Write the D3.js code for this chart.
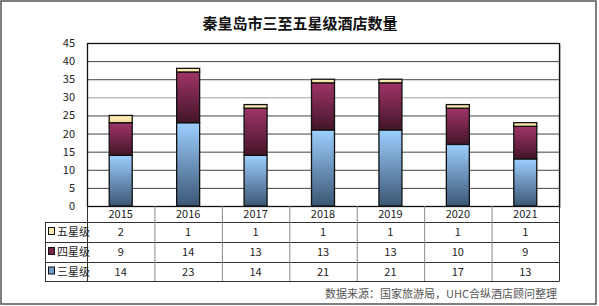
<!DOCTYPE html>
<html>
<head>
<meta charset="utf-8">
<script src="https://cdn.jsdelivr.net/npm/d3@7"></script>
<style>
  body { margin: 0; background: #fff; }
  text { font-family: "Microsoft YaHei", "Noto Sans CJK SC", sans-serif; }
</style>
</head>
<body>
<div id="chart"></div>
<script>
// data
var years = ["2015", "2016", "2017", "2018", "2019", "2020", "2021"];
var threeStar = [14, 23, 14, 21, 21, 17, 13];
var fourStar = [9, 14, 13, 13, 13, 10, 9];
var fiveStar = [2, 1, 1, 1, 1, 1, 1];
var seriesNames = ["三星级", "四星级", "五星级"];
var yTicks = [0, 5, 10, 15, 20, 25, 30, 35, 40, 45];

var svgWidth = 599;
var svgHeight = 306;

var plot = { left: 87, right: 559, top: 43, bottom: 206 };

var svg = d3.select("#chart")
  .append("svg")
  .attr("width", svgWidth)
  .attr("height", svgHeight);

// gradients
var defs = svg.append("defs");
function grad(id, top, bottom) {
  var g = defs.append("linearGradient").attr("id", id)
    .attr("x1", 0).attr("y1", 0).attr("x2", 0).attr("y2", 1);
  g.append("stop").attr("offset", "0%").attr("stop-color", top);
  g.append("stop").attr("offset", "100%").attr("stop-color", bottom);
}
grad("gBlue", "#9dcfff", "#3b5674");
grad("gPurple", "#a03468", "#431528");
grad("gYellow", "#fff2c0", "#f5dc9a");
var fills = ["url(#gBlue)", "url(#gPurple)", "url(#gYellow)"];
var swatch = ["#6f9cc8", "#7a2348", "#fbe7ae"];

// outer frame
svg.append("rect")
  .attr("x", 1).attr("y", 1)
  .attr("width", svgWidth - 4).attr("height", svgHeight - 3)
  .attr("fill", "none").attr("stroke", "#555").attr("stroke-width", 1.5);

// title
svg.append("text")
  .attr("x", 300).attr("y", 29)
  .attr("text-anchor", "middle")
  .attr("font-size", "15px")
  .attr("font-weight", "bold")
  .attr("fill", "#111")
  .text("秦皇岛市三至五星级酒店数量");

var x = d3.scaleBand()
  .domain(years)
  .range([plot.left, plot.right]);

var y = d3.scaleLinear()
  .domain([0, 45])
  .range([plot.bottom, plot.top]);

// plot shadow on the right
svg.append("rect")
  .attr("x", plot.right).attr("y", plot.top + 2)
  .attr("width", 2).attr("height", plot.bottom - plot.top)
  .attr("fill", "#ccc");

// gridlines
svg.append("g").selectAll("line")
  .data(yTicks.slice(1))
  .enter()
  .append("line")
  .attr("x1", plot.left).attr("x2", plot.right)
  .attr("y1", d => y(d) + 0.5).attr("y2", d => y(d) + 0.5)
  .attr("stroke", d => d === 30 ? "#a0a0a0" : "#444")
  .attr("stroke-width", 1);

// y axis labels
var leftAxis = d3.axisLeft(y).tickValues(yTicks).tickSize(0).tickPadding(12);
var yAxis = svg.append("g")
  .attr("transform", `translate(${plot.left}, 0)`)
  .call(leftAxis);
yAxis.select(".domain").remove();
yAxis.selectAll("text")
  .attr("font-size", "11px")
  .attr("fill", "#222")
  .style("font-family", "'Microsoft YaHei', 'Noto Sans CJK SC', sans-serif");

// stacked bars
var rows = years.map(function(yr, i) {
  return { year: yr, s0: threeStar[i], s1: fourStar[i], s2: fiveStar[i] };
});
var stack = d3.stack().keys(["s0", "s1", "s2"]);
var stacked = stack(rows);
var barW = 23;

svg.append("g").selectAll("g")
  .data(stacked)
  .enter()
  .append("g")
  .attr("fill", (d, i) => fills[i])
  .selectAll("rect")
  .data(d => d)
  .enter()
  .append("rect")
  .attr("x", d => x(d.data.year) + x.bandwidth() / 2 - barW / 2)
  .attr("y", d => y(d[1]))
  .attr("width", barW)
  .attr("height", d => y(d[0]) - y(d[1]))
  .attr("stroke", "#111")
  .attr("stroke-width", 1.3);

// plot frame
svg.append("rect")
  .attr("x", plot.left + 0.5).attr("y", plot.top + 0.5)
  .attr("width", plot.right - plot.left).attr("height", plot.bottom - plot.top)
  .attr("fill", "none").attr("stroke", "#111").attr("stroke-width", 1.3);

// data table
var tableLeft = 45;
var rowEdges = [206, 222, 242, 262, 281];
var tableRows = [
  { name: seriesNames[2], vals: fiveStar, col: swatch[2] },
  { name: seriesNames[1], vals: fourStar, col: swatch[1] },
  { name: seriesNames[0], vals: threeStar, col: swatch[0] }
];

var table = svg.append("g");

// horizontal lines
table.selectAll(".hl")
  .data(rowEdges.slice(1))
  .enter()
  .append("line")
  .attr("x1", (d, i) => i === 0 ? plot.left : tableLeft)
  .attr("x2", (d, i) => plot.right)
  .attr("y1", d => d + 0.5).attr("y2", d => d + 0.5)
  .attr("stroke", "#333");
table.append("line")
  .attr("x1", tableLeft).attr("x2", plot.right)
  .attr("y1", rowEdges[1] + 0.5).attr("y2", rowEdges[1] + 0.5)
  .attr("stroke", "#333");

// vertical lines
table.append("line")
  .attr("x1", tableLeft + 0.5).attr("x2", tableLeft + 0.5)
  .attr("y1", rowEdges[1]).attr("y2", rowEdges[4] + 0.5)
  .attr("stroke", "#333");
table.append("line")
  .attr("x1", plot.left + 0.5).attr("x2", plot.left + 0.5)
  .attr("y1", plot.bottom).attr("y2", rowEdges[4] + 0.5)
  .attr("stroke", "#333");
table.append("line")
  .attr("x1", plot.right + 0.5).attr("x2", plot.right + 0.5)
  .attr("y1", plot.bottom).attr("y2", rowEdges[4] + 0.5)
  .attr("stroke", "#333");
table.selectAll(".vl")
  .data(years.slice(1))
  .enter()
  .append("line")
  .attr("x1", d => x(d) + 0.5).attr("x2", d => x(d) + 0.5)
  .attr("y1", plot.bottom).attr("y2", rowEdges[4])
  .attr("stroke", "#8a8a8a");

// year header
table.selectAll(".yr")
  .data(years)
  .enter()
  .append("text")
  .attr("x", d => x(d) + x.bandwidth() / 2)
  .attr("y", 218)
  .attr("text-anchor", "middle")
  .attr("font-size", "11px")
  .attr("fill", "#222")
  .text(d => d);

// rows
tableRows.forEach(function(r, ri) {
  var yMid = (rowEdges[ri + 1] + rowEdges[ri + 2]) / 2;
  table.append("rect")
    .attr("x", 48.5).attr("y", yMid - 4.5)
    .attr("width", 6).attr("height", 7)
    .attr("fill", r.col).attr("stroke", "#111");
  table.append("text")
    .attr("x", 57).attr("y", yMid + 4)
    .attr("font-size", "11px")
    .attr("fill", "#222")
    .text(r.name);
  table.selectAll(".v" + ri)
    .data(r.vals)
    .enter()
    .append("text")
    .attr("x", (d, i) => x(years[i]) + x.bandwidth() / 2)
    .attr("y", yMid + 4)
    .attr("text-anchor", "middle")
    .attr("font-size", "11px")
    .attr("fill", "#222")
    .text(d => d);
});

// source note
svg.append("text")
  .attr("x", 557).attr("y", 298)
  .attr("text-anchor", "end")
  .attr("font-size", "11px")
  .attr("fill", "#555")
  .text("数据来源：国家旅游局，UHC合纵酒店顾问整理");
</script>
</body>
</html>
